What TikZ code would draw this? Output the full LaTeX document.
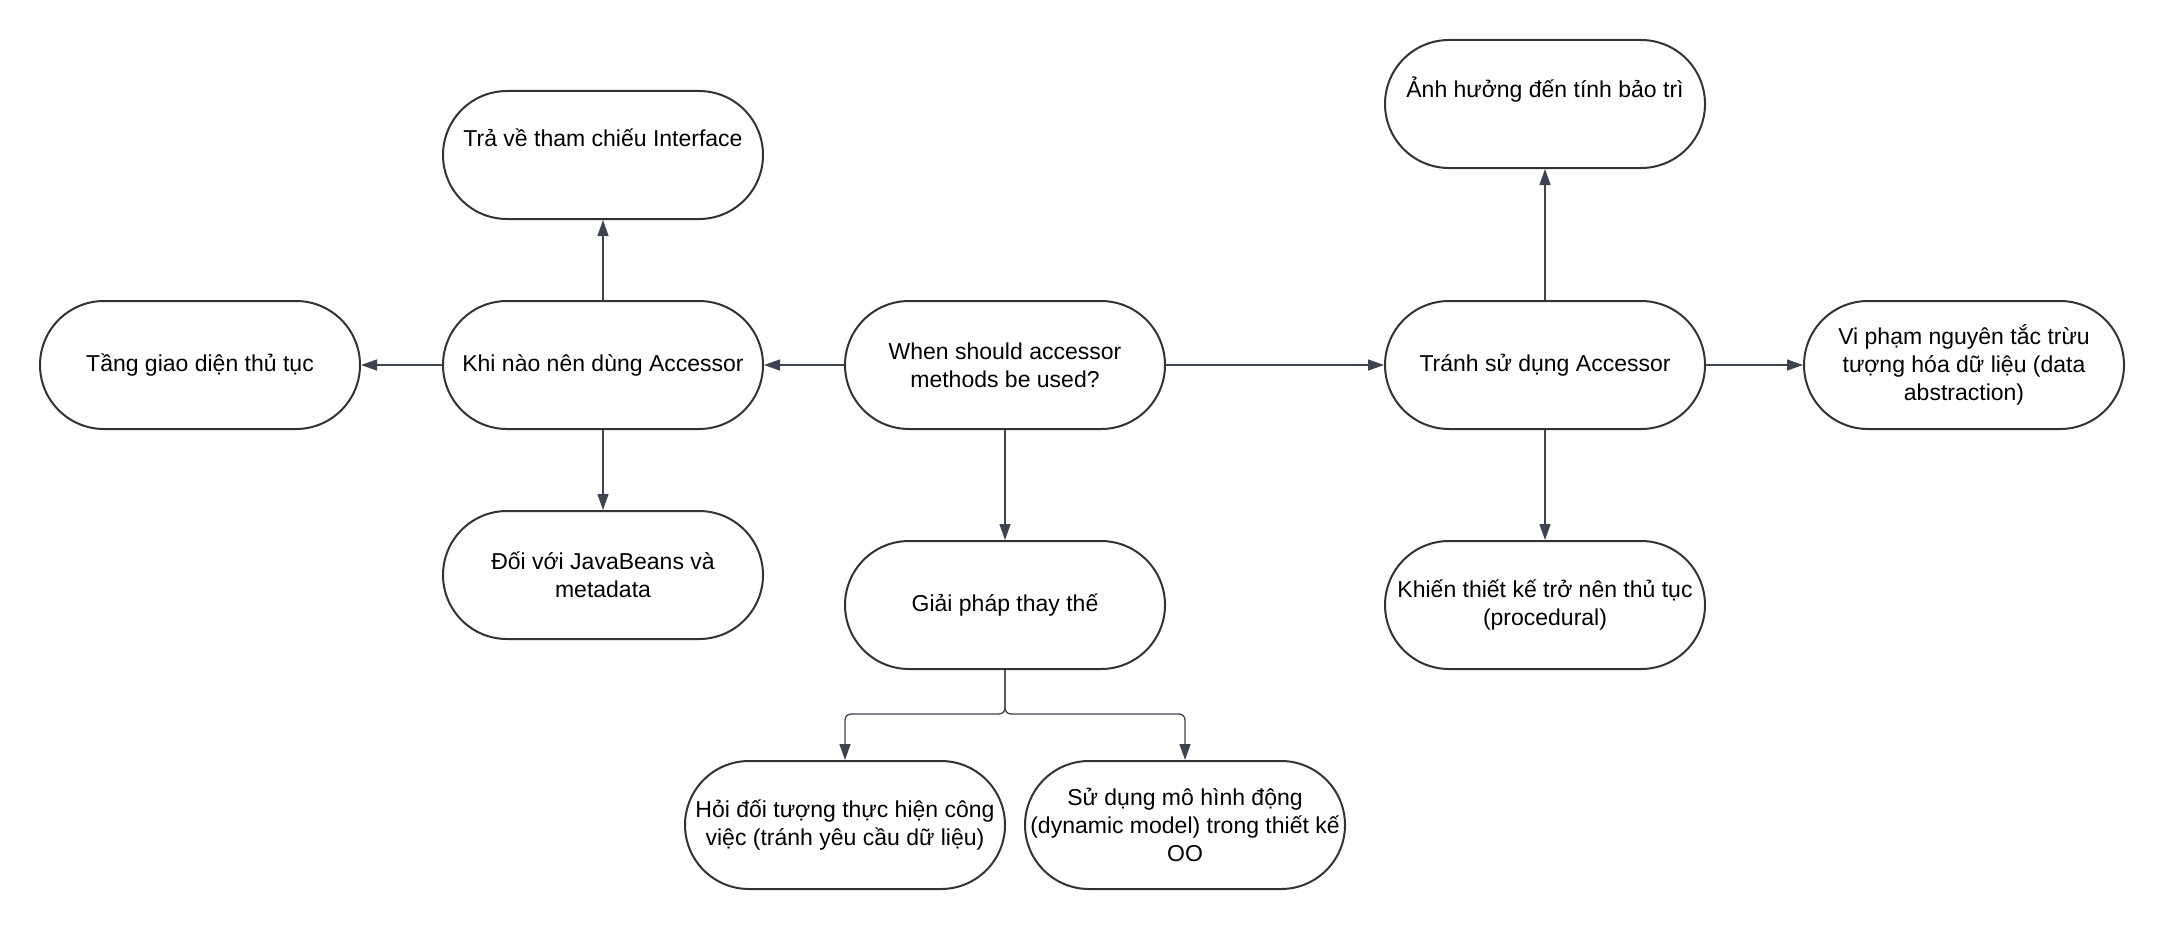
\documentclass[tikz,border=0pt]{standalone}
\usepackage{fontspec}
\setmainfont{Liberation Sans}
\usepackage{tikz}
\usetikzlibrary{arrows.meta}
\definecolor{edgegray}{HTML}{3D4450}
\definecolor{boxline}{HTML}{333333}
\tikzset{
  term/.style={draw=boxline, line width=1pt, rounded corners=32pt, minimum width=160pt,
    minimum height=64pt, inner sep=1pt, align=center,
    font=\fontsize{11.5}{13.8}\selectfont},
  lifted/.style={text depth=17pt},
  link/.style={draw=edgegray, line width=0.65pt, sharp corners, -{Triangle[length=8pt,width=5.5pt]}}
}

\begin{document}
\begin{tikzpicture}[x=0.5pt, y=-0.5pt]
  \useasboundingbox (0,0) rectangle (2166,931);
  \node[term] (when) at (1005,365) {When should accessor\\methods be used?};
  \node[term] (khi) at (603,365) {Khi nào nên dùng Accessor};
  \node[term] (tang) at (200,365) {Tầng giao diện thủ tục};
  \node[term, lifted] (trave) at (603,155) {Trả về tham chiếu Interface};
  \node[term] (doivoi) at (603,575) {Đối với JavaBeans và\\metadata};
  \node[term] (giaiphap) at (1005,605) {Giải pháp thay thế};
  \node[term] (hoi) at (845,825) {Hỏi đối tượng thực hiện công\\việc (tránh yêu cầu dữ liệu)};
  \node[term] (sudung) at (1185,825) {Sử dụng mô hình động\\(dynamic model) trong thiết kế\\OO};
  \node[term] (tranh) at (1545,365) {Tránh sử dụng Accessor};
  \node[term, lifted] (anhhuong) at (1545,104) {Ảnh hưởng đến tính bảo trì};
  \node[term] (vipham) at (1964,365) {Vi phạm nguyên tắc trừu\\tượng hóa dữ liệu (data\\abstraction)};
  \node[term] (khien) at (1545,605) {Khiến thiết kế trở nên thủ tục\\(procedural)};

  \draw[link] (when) -- (khi);
  \draw[link] (khi) -- (tang);
  \draw[link] (khi) -- (trave);
  \draw[link] (khi) -- (doivoi);
  \draw[link] (when) -- (tranh);
  \draw[link] (when) -- (giaiphap);
  \draw[link] (tranh) -- (anhhuong);
  \draw[link] (tranh) -- (vipham);
  \draw[link] (tranh) -- (khien);
  \draw[link, rounded corners=3pt] (giaiphap.south) -- ++(0,44) -| (hoi.north);
  \draw[link, rounded corners=3pt] (giaiphap.south) -- ++(0,44) -| (sudung.north);
\end{tikzpicture}
\end{document}
